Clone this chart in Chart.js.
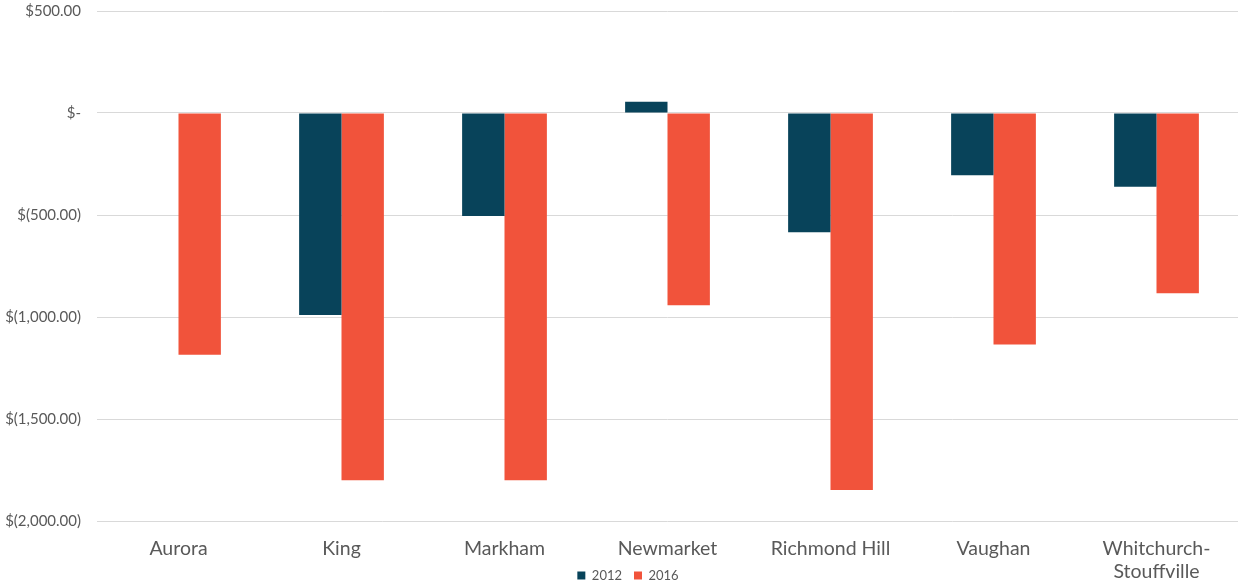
<!DOCTYPE html>
<html>
<head>
<meta charset="utf-8">
<script src="https://cdn.jsdelivr.net/npm/chart.js@4/dist/chart.umd.min.js"></script>
<style>
  html, body { margin: 0; padding: 0; background: #fff; }
  #wrap { width: 1239px; height: 586px; position: relative; }
</style>
</head>
<body>
<div id="wrap"><canvas id="bar-chart"></canvas></div>
<script>
let towns = ['Aurora', 'King', 'Markham', 'Newmarket', 'Richmond Hill', 'Vaughan', ['Whitchurch-', 'Stouffville']];
let y2012 = [0, -990, -505, 55, -585, -305, -362];
let y2016 = [-1185, -1800, -1800, -943, -1848, -1135, -884];
let yTicks = { '500': '$500.00', '0': '$-', '-500': '$(500.00)', '-1000': '$(1,000.00)', '-1500': '$(1,500.00)', '-2000': '$(2,000.00)' };

let grey = '#595959';

// legend sits beside the second line of the x labels, so pull it up after layout
let legendNudge = {
  id: 'legendNudge',
  afterLayout(chart) {
    let lg = chart.legend;
    lg.top -= 26; lg.bottom -= 26;
    lg.left += 9; lg.right += 9;
  }
};

new Chart(document.getElementById('bar-chart'), {
  type: 'bar',
  data: {
    labels: towns,
    datasets: [{
        label: '2012',
        data: y2012,
        backgroundColor: '#08435a',
        categoryPercentage: 0.52,
        barPercentage: 1.0
      }, {
        label: '2016',
        data: y2016,
        backgroundColor: '#f1533b',
        categoryPercentage: 0.52,
        barPercentage: 1.0
      }
    ]
  },
  plugins: [legendNudge],
  options: {
    responsive: true,
    maintainAspectRatio: false,
    animation: { duration: 0 },
    events: [],
    layout: { padding: { top: 0, right: 1, left: 0, bottom: -32 } },
    scales: {
      x: {
        grid: { display: false },
        border: { display: false },
        ticks: {
          color: grey,
          padding: 8,
          maxRotation: 0,
          autoSkip: false,
          font: { family: 'Lato', size: 19.5, lineHeight: 1.2 }
        },
        afterFit: (scale) => { scale.height = 62; }
      },
      y: {
        min: -2000,
        max: 500,
        grid: { color: '#d9d9d9', lineWidth: 1, drawTicks: false },
        border: { display: false },
        ticks: {
          stepSize: 500,
          color: grey,
          padding: 16,
          font: { family: 'Lato', size: 15 },
          callback: (v) => yTicks[String(v)]
        },
        afterFit: (scale) => {
          scale.width = 97;
          scale.paddingTop = 11;
          scale.paddingBottom = 0;
        }
      }
    },
    plugins: {
      title: { display: false },
      tooltip: { enabled: false },
      legend: {
        position: 'bottom',
        labels: {
          color: grey,
          boxWidth: 8,
          boxHeight: 8,
          padding: 12,
          font: { family: 'Lato', size: 13 }
        }
      }
    }
  }
});
</script>
</body>
</html>
